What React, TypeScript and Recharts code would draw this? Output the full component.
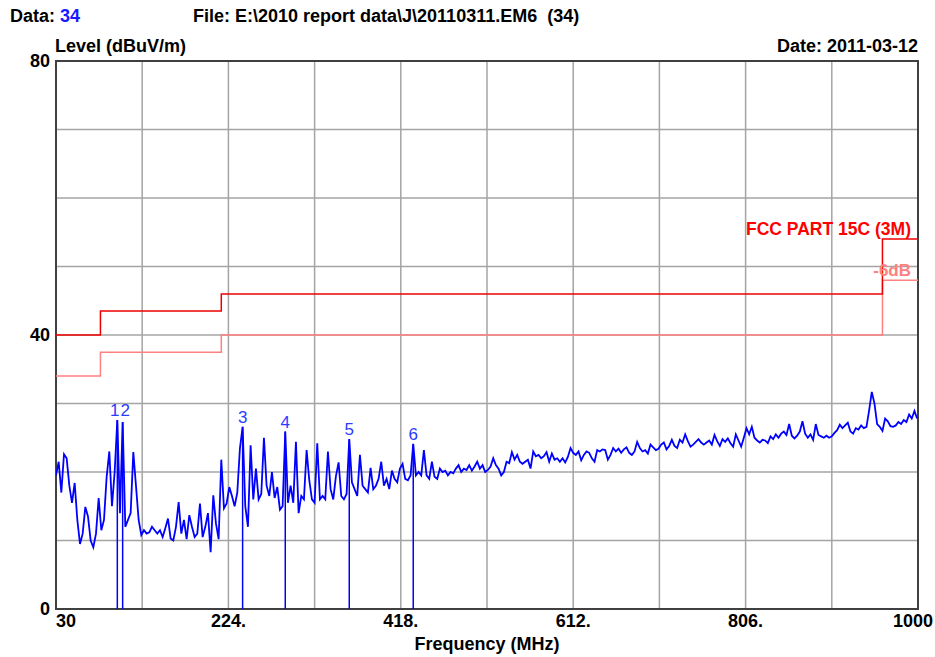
import {
  ComposedChart,
  Line,
  XAxis,
  YAxis,
  CartesianGrid,
  ReferenceLine,
  ReferenceDot,
  ReferenceArea,
} from 'recharts';

// Sweep: 30 MHz .. 999 MHz in 3 MHz steps, peak levels in dBuV/m
const SWEEP_START_MHZ = 30;
const SWEEP_STEP_MHZ = 3;
const LEVELS = [
  19.5, 21.5, 17, 22.6, 22, 18, 15.5, 18.4, 13, 9.5,
  11, 14.9, 13.5, 10, 9, 11, 16.2, 11.5, 13, 19.3,
  23, 15, 20, 27.6, 14, 27.3, 12, 13, 14, 22.9,
  18, 13, 10.8, 11.5, 11, 11.2, 12, 11.5, 11, 11.5,
  10.5, 11.8, 13.2, 10.3, 10, 12, 15.6, 11, 13, 10.2,
  13.7, 12, 10.5, 11, 15.4, 10.5, 12, 14, 8.3, 16.6,
  12.5, 10.2, 21.8, 14.7, 15.4, 17.8, 16.5, 15, 17, 23.5,
  26.6, 15, 12, 23.9, 16, 20.5, 16, 16.8, 25, 18,
  16.5, 20, 16.2, 17.8, 14.5, 15, 25.9, 15.5, 18, 15.5,
  24.4, 14, 16.5, 16, 23.2, 18.8, 16, 15.5, 24.2, 16,
  16.5, 16, 23, 17.5, 16, 19.4, 21.4, 16.5, 16, 16.8,
  24.8, 18.5, 17.5, 16.5, 22.5, 18, 17.5, 17, 20.6, 17.5,
  18, 19, 21.5, 18, 19, 17.5, 20.2, 19, 18.5, 20.5,
  21.2, 19, 18.8, 19.5, 24.1, 19.5, 20, 19.5, 23.2, 19.5,
  19, 21.5, 19.3, 19, 20.5, 20, 20.2, 19.5, 20, 19.8,
  20.5, 21, 20, 20.5, 20.3, 21, 20.2, 20.8, 21.5, 20.5,
  21, 20, 20.3, 20.8, 22, 21, 20.5, 19.5, 20, 21.5,
  21.3, 22.9, 21.8, 22.5, 21.5, 21.2, 21.5, 21.8, 20.5, 23,
  22.3, 22.5, 22, 22.3, 22.9, 21.5, 22.7, 21.8, 22, 21.5,
  22, 21.4, 22.2, 23.5, 22.8, 22.5, 23, 21.7, 22.5, 23,
  22.8, 22, 21.5, 23.2, 23, 23.3, 23.2, 21.8, 22.5, 23.5,
  23, 23.4, 22.8, 23.3, 23.6, 22.8, 22.5, 23, 24.4, 23.5,
  23, 23.2, 22.7, 24, 23.6, 23.2, 23.4, 24, 24.3, 23.3,
  23.8, 24.7, 23.8, 23.5, 24.7, 24.3, 25.5, 24.5, 23.7, 24,
  24.4, 24.8, 24.3, 24, 24.3, 24.6, 24, 25.4, 24.5, 23.8,
  24.8, 24.4, 24.9, 24.2, 23.7, 25.5, 24.6, 23.7, 25, 26.4,
  25.5, 26.6, 25, 24.6, 24.3, 24.7, 24.6, 24.2, 25.2, 24.8,
  25.5, 25, 25.6, 25.9, 25.4, 27, 25.3, 24.9, 25.3, 25.9,
  27.4, 25.6, 25, 25.5, 24.7, 27, 25.4, 25.2, 25, 25.3,
  25, 25.2, 25.7, 26.1, 26.9, 26.4, 26.8, 27.2, 25.9, 25.6,
  26.4, 26.2, 26.8, 26.4, 26.6, 29, 31.7, 30, 27, 26.6,
  26, 27.8, 27.4, 26.7, 26.6, 26.8, 27.3, 27, 27.6, 27.3,
  28.4, 27.8, 28.9, 27.8,
];

// FCC Part 15C (3 m) limit and the -6 dB margin line
const LIMIT_FREQS = [30, 80, 216, 960, 1000];
const LIMIT_LEVELS = [40, 43.5, 46, 54, 54];
const MARGIN_LEVELS = [34, 37.5, 40, 48, 48];

// marked peaks
const MARKER_IDS = ['1', '2', '3', '4', '5', '6'];
const MARKER_FREQS = [99, 105, 240, 288, 360, 432];
const MARKER_LEVELS = [27.6, 27.3, 26.6, 25.9, 24.8, 24.1];
// markers 1 and 2 sit close together, so their numbers are spread apart to read "12"
const MARKER_LABEL_DX = [-2.5, 2.5, 0, 0, 0, 0];
const MARKER_LABEL_DY = [0, -2, 0, 0, 0, 0];

const X_TICKS = [30, 127, 224, 321, 418, 515, 612, 709, 806, 903, 1000];
const X_LABELS = ['30', '', '224.', '', '418.', '', '612.', '', '806.', '', '1000'];
const Y_TICKS = [0, 10, 20, 30, 40, 50, 60, 70, 80];
const Y_LABELS = ['0', '', '', '', '40', '', '', '', '80'];

const trace = LEVELS.map((level, i) => ({
  freq: SWEEP_START_MHZ + i * SWEEP_STEP_MHZ,
  level,
}));
const limit = LIMIT_FREQS.map((freq, i) => ({ freq, level: LIMIT_LEVELS[i] }));
const margin6 = LIMIT_FREQS.map((freq, i) => ({ freq, level: MARGIN_LEVELS[i] }));

const FONT = "'Liberation Sans', Arial, sans-serif";
const BLUE = '#0000ff';
const RED = '#ee0000';
const PINK = '#ff8080';

const XTick = (props: any) => {
  const { x, y, payload } = props;
  const idx = X_TICKS.indexOf(payload.value);
  const label = X_LABELS[idx];
  if (!label) return <g />;
  let anchor = 'middle';
  let tx = x;
  if (idx === 0) anchor = 'start';
  if (idx === X_TICKS.length - 1) {
    anchor = 'end';
    tx = x + 15;
  }
  return (
    <text x={tx} y={y + 10} textAnchor={anchor} fontSize={18} fontWeight="bold" fontFamily={FONT} fill="#000">
      {label}
    </text>
  );
};

const YTick = (props: any) => {
  const { x, y, payload } = props;
  const label = Y_LABELS[Y_TICKS.indexOf(payload.value)];
  if (!label) return <g />;
  return (
    <text x={x + 2} y={y + 6} textAnchor="end" fontSize={18} fontWeight="bold" fontFamily={FONT} fill="#000">
      {label}
    </text>
  );
};

const markerLabel = (i: number) => (props: any) => {
  const vb = props.viewBox || {};
  const cx = (vb.x || 0) + (vb.width || 0) / 2;
  const cy = vb.y || 0;
  return (
    <text
      x={cx + MARKER_LABEL_DX[i]}
      y={cy - 4 + MARKER_LABEL_DY[i]}
      textAnchor="middle"
      fontSize={17}
      fontFamily={FONT}
      fill="#2a3cff"
    >
      {MARKER_IDS[i]}
    </text>
  );
};

export default function App() {
  return (
    <div style={{ position: 'relative', width: 935, height: 657, background: '#fff' }}>
      <style>{'body{margin:0}'}</style>
      <ComposedChart
        width={935}
        height={657}
        margin={{ top: 61, right: 17, bottom: 0, left: 0 }}
      >
        <CartesianGrid stroke="#a4a4a4" strokeWidth={1.5} />
        <XAxis
          type="number"
          dataKey="freq"
          domain={[30, 1000]}
          ticks={X_TICKS}
          allowDataOverflow
          height={48}
          axisLine={false}
          tickLine={false}
          tick={<XTick />}
        />
        <YAxis
          type="number"
          domain={[0, 80]}
          ticks={Y_TICKS}
          allowDataOverflow
          width={56}
          axisLine={false}
          tickLine={false}
          tick={<YTick />}
        />
        <Line
          data={margin6}
          dataKey="level"
          type="stepAfter"
          stroke={PINK}
          strokeWidth={1.5}
          dot={false}
          isAnimationActive={false}
        />
        <Line
          data={limit}
          dataKey="level"
          type="stepAfter"
          stroke={RED}
          strokeWidth={1.5}
          dot={false}
          isAnimationActive={false}
        />
        {MARKER_FREQS.map((f, i) => (
          <ReferenceLine
            key={'m' + i}
            segment={[
              { x: f, y: 0 },
              { x: f, y: MARKER_LEVELS[i] },
            ]}
            stroke={BLUE}
            strokeWidth={1.5}
          />
        ))}
        <Line
          data={trace}
          dataKey="level"
          type="linear"
          stroke={BLUE}
          strokeWidth={1.8}
          dot={false}
          isAnimationActive={false}
        />
        {MARKER_FREQS.map((f, i) => (
          <ReferenceDot
            key={'l' + i}
            x={f}
            y={MARKER_LEVELS[i]}
            r={0}
            stroke="none"
            label={markerLabel(i)}
          />
        ))}
        <ReferenceArea x1={30} x2={1000} y1={0} y2={80} fill="none" stroke="#404040" strokeWidth={2} />
      </ComposedChart>
      <svg
        width={935}
        height={657}
        style={{ position: 'absolute', left: 0, top: 0, pointerEvents: 'none' }}
        fontFamily={FONT}
        fontWeight="bold"
        fontSize={18}
      >
        <text x={10} y={22} fill="#000">
          Data: <tspan fill="#1a1aff">34</tspan>
        </text>
        <text x={193} y={22} fill="#000" style={{ whiteSpace: 'pre' }}>
          {'File: E:\\2010 report data\\J\\20110311.EM6  (34)'}
        </text>
        <text x={55} y={52} fill="#000">Level (dBuV/m)</text>
        <text x={918} y={52} fill="#000" textAnchor="end">Date: 2011-03-12</text>
        <text x={487} y={650} fill="#000" textAnchor="middle">Frequency (MHz)</text>
        <text x={911} y={235} fill="#ff0000" textAnchor="end" fontSize={17.5}>FCC PART 15C (3M)</text>
        <text x={911} y={276} fill={PINK} textAnchor="end" fontSize={17}>-6dB</text>
      </svg>
    </div>
  );
}
